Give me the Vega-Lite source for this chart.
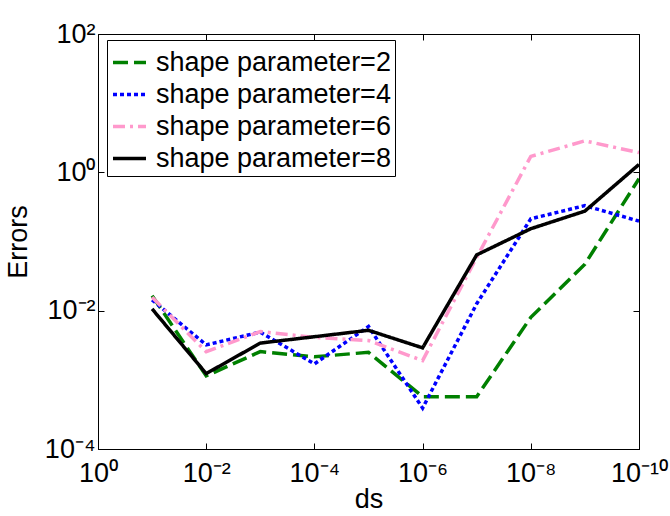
{
  "$schema": "https://vega.github.io/schema/vega-lite/v6.json",
  "width": 541,
  "height": 415,
  "autosize": "none",
  "padding": {"left": 98, "top": 34, "right": 31, "bottom": 67},
  "background": "white",
  "config": {
    "font": "Liberation Sans",
    "view": {"stroke": "black", "strokeWidth": 1},
    "axis": {
      "grid": false,
      "domainColor": "black",
      "tickColor": "black",
      "tickSize": -6,
      "labelColor": "black",
      "titleColor": "black",
      "labelFontSize": 27,
      "titleFontSize": 27,
      "titleFontWeight": "normal",
      "labelFont": "Liberation Sans",
      "titleFont": "Liberation Sans"
    }
  },
  "data": {
    "values": [
      {"ds": 1e-1, "err": 0.0165, "series": "shape parameter=2"},
      {"ds": 1e-2, "err": 0.00114, "series": "shape parameter=2"},
      {"ds": 1e-3, "err": 0.00256, "series": "shape parameter=2"},
      {"ds": 1e-4, "err": 0.00215, "series": "shape parameter=2"},
      {"ds": 1e-5, "err": 0.0025, "series": "shape parameter=2"},
      {"ds": 1e-6, "err": 0.00057, "series": "shape parameter=2"},
      {"ds": 1e-7, "err": 0.00057, "series": "shape parameter=2"},
      {"ds": 1e-8, "err": 0.008, "series": "shape parameter=2"},
      {"ds": 1e-9, "err": 0.047, "series": "shape parameter=2"},
      {"ds": 1e-10, "err": 0.81, "series": "shape parameter=2"},
      {"ds": 1e-1, "err": 0.0143, "series": "shape parameter=4"},
      {"ds": 1e-2, "err": 0.0032, "series": "shape parameter=4"},
      {"ds": 1e-3, "err": 0.0049, "series": "shape parameter=4"},
      {"ds": 1e-4, "err": 0.0017, "series": "shape parameter=4"},
      {"ds": 1e-5, "err": 0.0059, "series": "shape parameter=4"},
      {"ds": 1e-6, "err": 0.00039, "series": "shape parameter=4"},
      {"ds": 1e-7, "err": 0.0126, "series": "shape parameter=4"},
      {"ds": 1e-8, "err": 0.213, "series": "shape parameter=4"},
      {"ds": 1e-9, "err": 0.33, "series": "shape parameter=4"},
      {"ds": 1e-10, "err": 0.197, "series": "shape parameter=4"},
      {"ds": 1e-1, "err": 0.0156, "series": "shape parameter=6"},
      {"ds": 1e-2, "err": 0.00255, "series": "shape parameter=6"},
      {"ds": 1e-3, "err": 0.005, "series": "shape parameter=6"},
      {"ds": 1e-4, "err": 0.0041, "series": "shape parameter=6"},
      {"ds": 1e-5, "err": 0.0037, "series": "shape parameter=6"},
      {"ds": 1e-6, "err": 0.0019, "series": "shape parameter=6"},
      {"ds": 1e-7, "err": 0.059, "series": "shape parameter=6"},
      {"ds": 1e-8, "err": 1.7, "series": "shape parameter=6"},
      {"ds": 1e-9, "err": 2.85, "series": "shape parameter=6"},
      {"ds": 1e-10, "err": 1.93, "series": "shape parameter=6"},
      {"ds": 1e-1, "err": 0.0106, "series": "shape parameter=8"},
      {"ds": 1e-2, "err": 0.00123, "series": "shape parameter=8"},
      {"ds": 1e-3, "err": 0.0034, "series": "shape parameter=8"},
      {"ds": 1e-4, "err": 0.0042, "series": "shape parameter=8"},
      {"ds": 1e-5, "err": 0.0052, "series": "shape parameter=8"},
      {"ds": 1e-6, "err": 0.0029, "series": "shape parameter=8"},
      {"ds": 1e-7, "err": 0.064, "series": "shape parameter=8"},
      {"ds": 1e-8, "err": 0.153, "series": "shape parameter=8"},
      {"ds": 1e-9, "err": 0.275, "series": "shape parameter=8"},
      {"ds": 1e-10, "err": 1.3, "series": "shape parameter=8"}
    ]
  },
  "layer": [
    {
      "mark": {"type": "line", "strokeWidth": 3.5, "clip": true},
      "encoding": {
        "x": {
          "field": "ds", "type": "quantitative",
          "scale": {"type": "log", "domain": [1e-10, 1], "reverse": true, "nice": false},
          "axis": {
            "orient": "bottom",
            "title": "ds",
            "values": [1, 1e-2, 1e-4, 1e-6, 1e-8, 1e-10],
            "labelExpr": "datum.value > 0.5 ? '10⁰' : datum.value > 5e-3 ? '10⁻²' : datum.value > 5e-5 ? '10⁻⁴' : datum.value > 5e-7 ? '10⁻⁶' : datum.value > 5e-9 ? '10⁻⁸' : '10⁻¹⁰'",
            "labelPadding": 17,
            "labelFlush": false,
            "labelOverlap": false,
            "titlePadding": 0
          }
        },
        "y": {
          "field": "err", "type": "quantitative",
          "scale": {"type": "log", "domain": [1e-4, 100], "nice": false},
          "axis": {
            "orient": "left",
            "title": "Errors",
            "values": [100, 1, 0.01, 0.0001],
            "labelExpr": "datum.value > 50 ? '10²' : datum.value > 0.5 ? '10⁰' : datum.value > 5e-3 ? '10⁻²' : '10⁻⁴'",
            "labelPadding": 9,
            "labelFlush": false,
            "labelOverlap": false,
            "titlePadding": 12
          }
        },
        "color": {
          "field": "series", "type": "nominal",
          "scale": {
            "domain": ["shape parameter=2", "shape parameter=4", "shape parameter=6", "shape parameter=8"],
            "range": ["#008000", "#0000ff", "#ff99cc", "#000000"]
          },
          "legend": {
            "title": null,
            "orient": "none",
            "legendX": 9,
            "legendY": 6,
            "strokeColor": "black",
            "fillColor": "white",
            "padding": 4,
            "symbolType": "stroke",
            "symbolSize": 1089,
            "symbolStrokeWidth": 3.5,
            "labelFontSize": 27,
            "labelFont": "Liberation Sans",
            "labelColor": "black",
            "labelOffset": 8,
            "rowPadding": 0,
            "labelLimit": 400
          }
        },
        "strokeDash": {
          "field": "series", "type": "nominal",
          "scale": {
            "domain": ["shape parameter=2", "shape parameter=4", "shape parameter=6", "shape parameter=8"],
            "range": [[15, 6], [4, 3], [12, 5, 3, 5], [1, 0]]
          },
          "legend": {
            "title": null,
            "orient": "none",
            "legendX": 9,
            "legendY": 6,
            "strokeColor": "black",
            "fillColor": "white",
            "padding": 4,
            "symbolType": "stroke",
            "symbolSize": 1089,
            "symbolStrokeWidth": 3.5,
            "labelFontSize": 27,
            "labelFont": "Liberation Sans",
            "labelColor": "black",
            "labelOffset": 8,
            "rowPadding": 0,
            "labelLimit": 400
          }
        }
      }
    },
    {
      "mark": {"type": "line", "opacity": 0},
      "encoding": {
        "x": {
          "field": "ds", "type": "quantitative",
          "axis": {"orient": "top", "title": null, "labels": false, "domain": false, "values": [1, 1e-2, 1e-4, 1e-6, 1e-8, 1e-10]}
        },
        "y": {
          "field": "err", "type": "quantitative",
          "axis": {"orient": "right", "title": null, "labels": false, "domain": false, "values": [100, 1, 0.01, 0.0001]}
        },
        "detail": {"field": "series"}
      }
    }
  ],
  "resolve": {"axis": {"x": "independent", "y": "independent"}}
}
